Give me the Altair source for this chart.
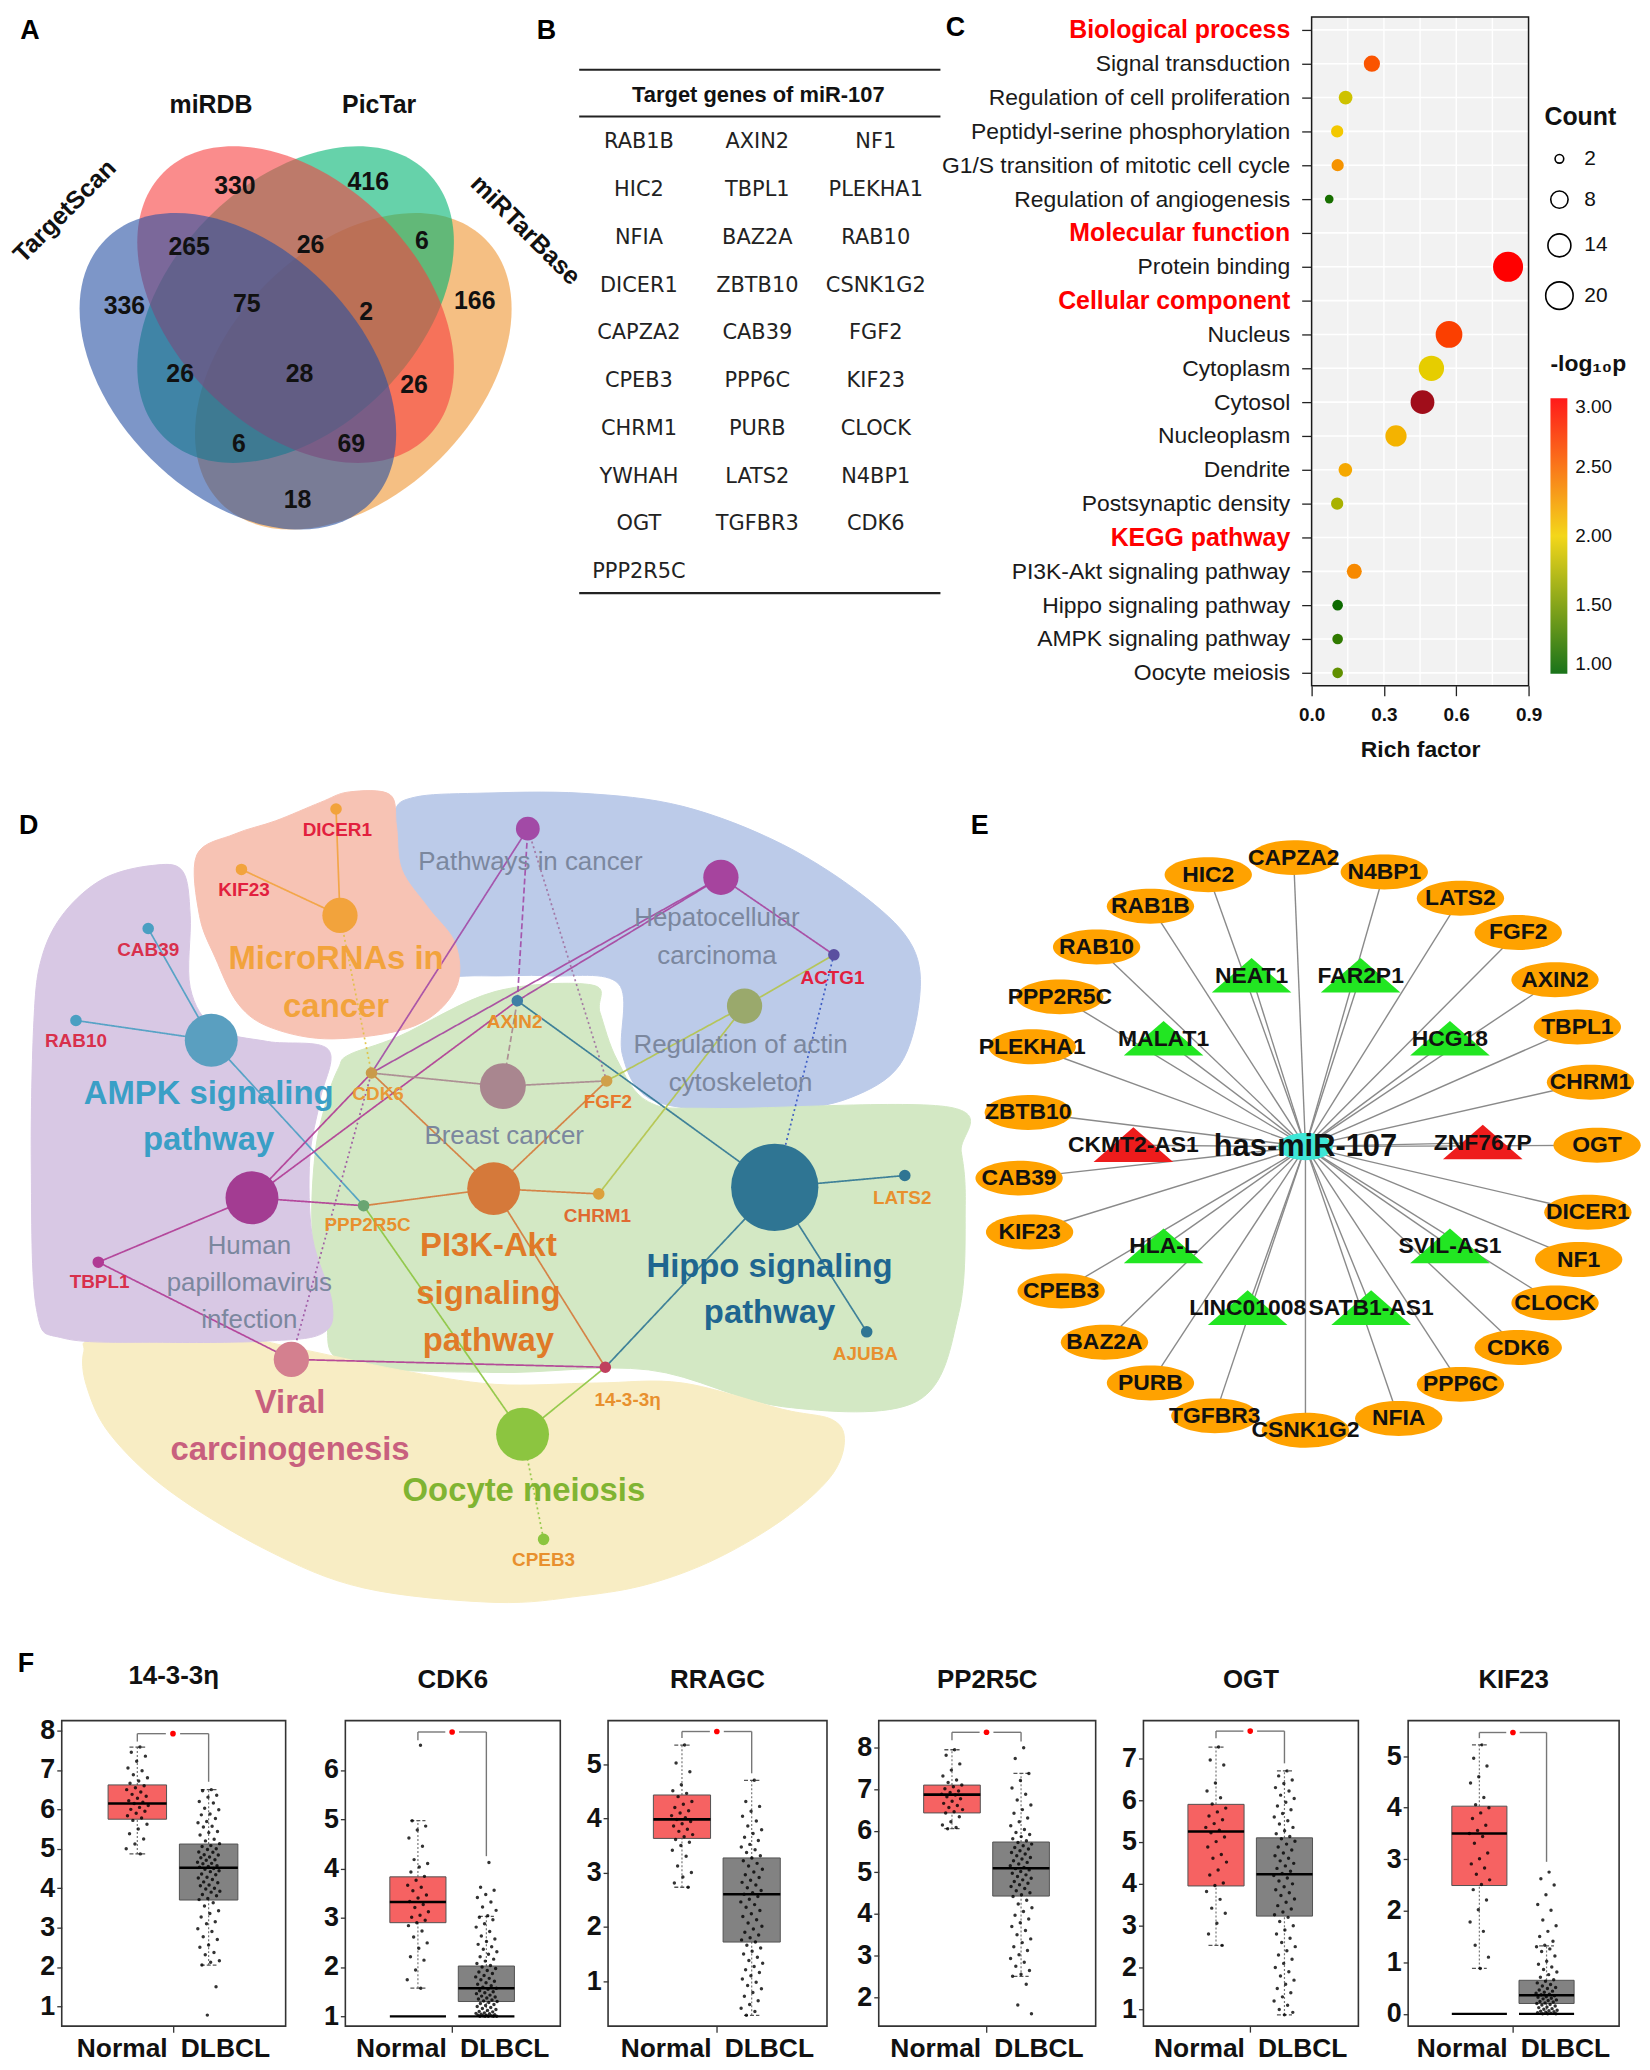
import altair as alt
import pandas as pd

FONT = "Liberation Sans"


def ellipse_path(ry):
    k = 0.5523
    a = round(ry * k, 4)
    return (f"M 1 0 C 1 {a} {k} {ry} 0 {ry} C {-k} {ry} -1 {a} -1 0 "
            f"C -1 {-a} {-k} {-ry} 0 {-ry} C {k} {-ry} 1 {-a} 1 0 Z")


TRIANGLE = "M -1 0.42 L 1 0.42 L 0 -0.45 Z"

# ======================= DATA =======================
# ---- A : Venn (drawing order bottom -> top)
venn_sets = ["miRTarBase", "PicTar", "miRDB", "TargetScan"]
venn_colors = ["#ee9430", "#00b472", "#f73f40", "#2650a3"]
venn_center_x = [350, 292, 292, 234]
venn_center_y = [364, 297, 297, 364]
venn_angle = [135, 135, 45, 45]
venn_counts = [330, 416, 265, 26, 6, 336, 75, 2, 166, 26, 28, 26, 6, 69, 18]
venn_count_x = [231, 365, 185, 307, 419, 120, 243, 363, 472, 176, 296, 411, 235, 348, 294]
venn_count_y = [178, 174, 239, 237, 233, 298, 296, 304, 293, 367, 367, 378, 437, 437, 493]
venn_label_text = ["miRDB", "PicTar", "TargetScan", "miRTarBase"]
venn_label_x = [207, 376, 60, 523]
venn_label_y = [96, 96, 203, 222]
venn_label_angle = [0, 0, 315, 45]

# ---- B : table
target_genes = ["RAB1B", "AXIN2", "NF1", "HIC2", "TBPL1", "PLEKHA1", "NFIA", "BAZ2A", "RAB10",
                "DICER1", "ZBTB10", "CSNK1G2", "CAPZA2", "CAB39", "FGF2", "CPEB3", "PPP6C", "KIF23",
                "CHRM1", "PURB", "CLOCK", "YWHAH", "LATS2", "N4BP1", "OGT", "TGFBR3", "CDK6", "PPP2R5C"]
table_line_y = [61, 108, 587]

# ---- C : enrichment
go_terms = ["Biological process", "Signal transduction", "Regulation of cell proliferation",
            "Peptidyl-serine phosphorylation", "G1/S transition of mitotic cell cycle",
            "Regulation of angiogenesis", "Molecular function", "Protein binding",
            "Cellular component", "Nucleus", "Cytoplasm", "Cytosol", "Nucleoplasm", "Dendrite",
            "Postsynaptic density", "KEGG pathway", "PI3K-Akt signaling pathway",
            "Hippo signaling pathway", "AMPK signaling pathway", "Oocyte meiosis"]
go_headers = ["Biological process", "Molecular function", "Cellular component", "KEGG pathway"]
go_rich = [None, 0.25, 0.141, 0.106, 0.108, 0.073, None, 0.815, None, 0.57, 0.497, 0.46, 0.35,
           0.14, 0.106, None, 0.177, 0.108, 0.108, 0.108]
go_count = [None, 7, 5, 4, 4, 2, None, 24, None, 19, 17, 15, 12, 5, 4, None, 6, 3, 3, 3]
go_neglogp = [None, 2.6, 1.85, 2.05, 2.3, 1.1, None, 3.0, None, 2.7, 1.95, 3.4, 2.15, 2.2, 1.7,
              None, 2.35, 1.05, 1.2, 1.4]
rich_ticks = [0, 0.3, 0.6, 0.9]
inner_grid = [0.15, 0.3, 0.45, 0.6, 0.75]

# ---- D : network (layout coordinates)
d_pathways = ["AMPK signaling pathway", "MicroRNAs in cancer", "Pathways in cancer",
              "Hepatocellular carcinoma", "Regulation of actin cytoskeleton", "Breast cancer",
              "PI3K-Akt signaling pathway", "Hippo signaling pathway",
              "Human papillomavirus infection", "Viral carcinogenesis", "Oocyte meiosis"]
d_path_x = [157, 255, 398, 545, 563, 379, 372, 586, 188, 218, 394]
d_path_y = [785, 690, 624, 661, 759, 820, 898, 897, 905, 1028, 1085]
d_path_diam = [60, 40, 27, 40, 40, 52, 60, 99, 60, 40, 60]
d_path_color = ["#5a9fc0", "#f2a33c", "#a24aa6", "#a6449e", "#9aa96c", "#a9868f", "#d5793a",
                "#2f7593", "#a33c92", "#d4808f", "#8cc540"]
d_genes = ["DICER1", "KIF23", "CAB39", "RAB10", "TBPL1", "CDK6", "AXIN2", "FGF2", "ACTG1",
           "PPP2R5C", "CHRM1", "LATS2", "AJUBA", "14-3-3η", "CPEB3"]
d_gene_x = [252, 180, 109, 54, 71, 279, 390, 458, 631, 273, 452, 685, 656, 457, 410]
d_gene_y = [609, 655, 700, 770, 954, 810, 755, 816, 720, 911, 902, 888, 1007, 1034, 1165]
d_gene_color = ["#f2a33c", "#f2a33c", "#4a9fc2", "#4a9fc2", "#b03a94", "#c99a4a", "#3f7fa5",
                "#d0a04a", "#5a4fa0", "#6aa572", "#dca03c", "#2f7593", "#2f7593", "#c0405e", "#8cc540"]
d_gene_label_x = [253, 182, 109, 54, 72, 284, 388, 459, 630, 276, 451, 683, 655, 474, 410]
d_gene_label_y = [625, 671, 716, 786, 969, 826, 771, 832, 738, 926, 919, 905, 1024, 1059, 1181]
d_gene_label_color = ["#e2203e", "#e2203e", "#d8304c", "#d8304c", "#d8304c", "#e89a38", "#e8902e",
                      "#e8782e", "#e2203e", "#e8902e", "#e06a32", "#e8902e", "#e8902e", "#e8902e",
                      "#e8902e"]
d_edges = [
    ("DICER1", "MicroRNAs in cancer", "#f2a33c", "solid"),
    ("KIF23", "MicroRNAs in cancer", "#f2a33c", "solid"),
    ("MicroRNAs in cancer", "CDK6", "#e0c040", "dot"),
    ("CAB39", "AMPK signaling pathway", "#4a9fc2", "solid"),
    ("RAB10", "AMPK signaling pathway", "#4a9fc2", "solid"),
    ("AMPK signaling pathway", "PPP2R5C", "#4a9fc2", "solid"),
    ("TBPL1", "Human papillomavirus infection", "#b03a94", "solid"),
    ("TBPL1", "Viral carcinogenesis", "#b03a94", "solid"),
    ("Human papillomavirus infection", "CDK6", "#b03a94", "solid"),
    ("Human papillomavirus infection", "AXIN2", "#b03a94", "solid"),
    ("Human papillomavirus infection", "PPP2R5C", "#b03a94", "solid"),
    ("Viral carcinogenesis", "CDK6", "#9a50a0", "dot"),
    ("Viral carcinogenesis", "14-3-3η", "#b03a94", "solid"),
    ("CDK6", "Pathways in cancer", "#a24aa6", "solid"),
    ("CDK6", "Breast cancer", "#a9868f", "solid"),
    ("CDK6", "PI3K-Akt signaling pathway", "#d5793a", "solid"),
    ("CDK6", "Hepatocellular carcinoma", "#a6449e", "solid"),
    ("AXIN2", "Pathways in cancer", "#a24aa6", "dash"),
    ("AXIN2", "Breast cancer", "#a9868f", "dash"),
    ("AXIN2", "Hippo signaling pathway", "#2f7593", "solid"),
    ("AXIN2", "Hepatocellular carcinoma", "#a6449e", "solid"),
    ("FGF2", "Pathways in cancer", "#a070a0", "dot"),
    ("FGF2", "Breast cancer", "#a9868f", "solid"),
    ("FGF2", "PI3K-Akt signaling pathway", "#d5793a", "solid"),
    ("FGF2", "Regulation of actin cytoskeleton", "#b4c44a", "solid"),
    ("ACTG1", "Hepatocellular carcinoma", "#a6449e", "solid"),
    ("ACTG1", "Regulation of actin cytoskeleton", "#b4c44a", "solid"),
    ("ACTG1", "Hippo signaling pathway", "#3050c0", "dot"),
    ("CHRM1", "PI3K-Akt signaling pathway", "#d5793a", "solid"),
    ("CHRM1", "Regulation of actin cytoskeleton", "#b4c44a", "solid"),
    ("PI3K-Akt signaling pathway", "14-3-3η", "#d5793a", "solid"),
    ("PI3K-Akt signaling pathway", "PPP2R5C", "#d5793a", "solid"),
    ("Hippo signaling pathway", "LATS2", "#2f7593", "solid"),
    ("Hippo signaling pathway", "AJUBA", "#2f7593", "solid"),
    ("Hippo signaling pathway", "14-3-3η", "#2f7593", "solid"),
    ("14-3-3η", "Oocyte meiosis", "#8cc540", "solid"),
    ("PPP2R5C", "Oocyte meiosis", "#8cc540", "solid"),
    ("Oocyte meiosis", "CPEB3", "#8cc540", "dot"),
]
d_lab_text = ["AMPK signaling", "pathway", "MicroRNAs in", "cancer", "PI3K-Akt", "signaling",
              "pathway", "Hippo signaling", "pathway", "Viral", "carcinogenesis", "Oocyte meiosis"]
d_lab_x = [155, 155, 252, 252, 368, 368, 368, 582, 582, 217, 217, 395]
d_lab_y = [826, 861, 723, 760, 942, 978, 1014, 958, 993, 1061, 1097, 1128]
d_lab_color = ["#3a9fc6", "#3a9fc6", "#f2a33c", "#f2a33c", "#e07a28", "#e07a28", "#e07a28",
               "#1f6690", "#1f6690", "#c8607e", "#c8607e", "#80b432"]
d_glab_text = ["Pathways in cancer", "Hepatocellular", "carcinoma", "Regulation of actin",
               "cytoskeleton", "Breast cancer", "Human", "papillomavirus", "infection"]
d_glab_x = [400, 542, 542, 560, 560, 380, 186, 186, 186]
d_glab_y = [649, 692, 721, 789, 818, 858, 942, 970, 998]
d_blobs = [
    ("#bccbe9", [(296, 612), (312, 600), (360, 597), (439, 597), (516, 607), (592, 636), (656, 677),
                 (691, 714), (696, 755), (681, 804), (643, 829), (592, 839), (541, 839), (490, 829),
                 (470, 796), (467, 742), (414, 736), (363, 736), (320, 733), (300, 700), (294, 650)]),
    ("#d3e8c4", [(254, 806), (262, 796), (300, 782), (373, 748), (447, 743), (453, 764), (466, 800),
                 (490, 832), (541, 837), (719, 836), (728, 870), (731, 911), (726, 993), (694, 1060),
                 (592, 1064), (490, 1036), (373, 1038), (261, 1031), (244, 996), (234, 934),
                 (236, 872), (245, 830)]),
    ("#f8edc4", [(60, 1022), (72, 1013), (174, 1012), (224, 1020), (300, 1036), (373, 1047),
                 (450, 1046), (516, 1046), (592, 1066), (630, 1074), (639, 1091), (628, 1118),
                 (592, 1150), (541, 1180), (490, 1199), (439, 1208), (373, 1213), (273, 1202),
                 (199, 1173), (125, 1128), (80, 1085), (62, 1048)]),
    ("#f7c3b4", [(146, 644), (175, 628), (206, 618), (240, 604), (262, 596), (293, 598), (298, 622),
                 (302, 655), (322, 684), (343, 712), (343, 746), (312, 774), (250, 784), (204, 776),
                 (178, 758), (160, 722), (148, 690)]),
    ("#d8c8e4", [(22, 770), (28, 722), (45, 688), (75, 662), (112, 652), (135, 656), (141, 690),
                 (141, 745), (160, 776), (200, 786), (246, 792), (240, 830), (232, 875), (234, 935),
                 (249, 985), (242, 1008), (200, 1014), (120, 1015), (45, 1012), (24, 990), (20, 880)]),
]

# ---- E : miRNA network (layout coordinates)
e_center = (990, 866)
e_genes = ["HIC2", "CAPZA2", "N4BP1", "LATS2", "FGF2", "AXIN2", "TBPL1", "CHRM1", "OGT", "DICER1",
           "NF1", "CLOCK", "CDK6", "PPP6C", "NFIA", "CSNK1G2", "TGFBR3", "PURB", "BAZ2A", "CPEB3",
           "KIF23", "CAB39", "ZBTB10", "PLEKHA1", "PPP2R5C", "RAB10", "RAB1B"]
e_gene_x = [916, 981, 1050, 1108, 1152, 1180, 1197, 1207, 1212, 1205, 1198, 1180, 1152, 1108, 1061,
            990, 921, 872, 837, 804, 780, 772, 779, 782, 803, 831, 872]
e_gene_y = [659, 646, 657, 677, 703, 739, 775, 817, 865, 916, 952, 985, 1019, 1047, 1073, 1082, 1071,
            1046, 1015, 976, 931, 890, 840, 790, 752, 714, 683]
e_lnc = ["NEAT1", "FAR2P1", "MALAT1", "HCG18", "CKMT2-AS1", "ZNF767P", "HLA-L", "SVIL-AS1",
         "LINC01008", "SATB1-AS1"]
e_lnc_x = [949, 1032, 882, 1100, 859, 1125, 882, 1100, 946, 1040]
e_lnc_y = [736, 736, 784, 784, 865, 863, 942, 942, 989, 989]
e_lnc_color = ["#22e622", "#22e622", "#22e622", "#22e622", "#ee1c1c", "#ee1c1c", "#22e622",
               "#22e622", "#22e622", "#22e622"]

# ---- F : box plots
box_genes = ["14-3-3η", "CDK6", "RRAGC", "PP2R5C", "OGT", "KIF23"]
normal_stats = [[4.87, 5.75, 6.15, 6.62, 7.58], [1.57, 2.9, 3.32, 3.83, 4.97],
                [2.73, 3.63, 3.98, 4.43, 5.35], [6.05, 6.43, 6.87, 7.1, 7.95],
                [2.53, 3.95, 5.25, 5.9, 7.27], [0.88, 2.49, 3.5, 4.03, 5.22]]
dlbcl_stats = [[2.05, 3.7, 4.52, 5.12, 6.5], [1.0, 1.3, 1.57, 2.02, 3.03],
               [0.37, 1.72, 2.6, 3.27, 4.7], [2.5, 4.43, 5.1, 5.73, 7.38],
               [0.87, 3.23, 4.23, 5.1, 6.7], [0.0, 0.2, 0.36, 0.65, 1.32]]
y_domains = [[0.5, 8.25], [0.8, 7.0], [0.17, 5.8], [1.3, 8.65], [0.6, 7.9], [-0.24, 5.69]]
y_ticks = [[1, 2, 3, 4, 5, 6, 7, 8], [1, 2, 3, 4, 5, 6], [1, 2, 3, 4, 5], [2, 3, 4, 5, 6, 7, 8],
           [1, 2, 3, 4, 5, 6, 7], [0, 1, 2, 3, 4, 5]]
bracket_y = [[7.92, 7.72, 6.7], [6.77, 6.6, 4.25], [5.6, 5.48, 4.83], [8.37, 8.18, 8.15],
             [7.65, 7.48, 6.88], [5.46, 5.35, 2.95]]
floor_line = [None, 1.0, None, None, None, 0.0]
normal_vals = [
    [7.58, 7.45, 7.35, 7.22, 7.05, 6.98, 6.88, 6.8, 6.72, 6.66, 6.6, 6.55, 6.5, 6.44, 6.38, 6.33,
     6.28, 6.22, 6.18, 6.15, 6.1, 6.05, 6.0, 5.95, 5.9, 5.84, 5.78, 5.72, 5.62, 5.5, 5.38, 5.25,
     5.12, 5.0, 4.87],
    [6.5, 4.97, 4.86, 4.78, 4.62, 4.45, 4.18, 4.1, 4.03, 3.93, 3.84, 3.76, 3.66, 3.62, 3.55, 3.46,
     3.4, 3.33, 3.27, 3.21, 3.12, 3.05, 3.01, 2.95, 2.9, 2.84, 2.73, 2.61, 2.49, 2.38, 2.21, 2.14,
     1.94, 1.74, 1.57],
    [5.35, 5.02, 4.86, 4.62, 4.51, 4.46, 4.4, 4.31, 4.26, 4.2, 4.14, 4.1, 4.05, 4.01, 3.98, 3.94,
     3.9, 3.86, 3.8, 3.76, 3.7, 3.66, 3.61, 3.56, 3.5, 3.41, 3.3, 3.12, 3.0, 2.92, 2.81, 2.73],
    [7.95, 7.82, 7.61, 7.46, 7.32, 7.22, 7.16, 7.1, 7.06, 7.01, 6.96, 6.92, 6.88, 6.86, 6.82, 6.77,
     6.71, 6.66, 6.61, 6.56, 6.51, 6.46, 6.43, 6.34, 6.22, 6.14, 6.08, 6.05],
    [7.27, 6.96, 6.84, 6.41, 6.22, 6.06, 5.91, 5.81, 5.72, 5.62, 5.53, 5.44, 5.35, 5.28, 5.22, 5.12,
     5.01, 4.88, 4.7, 4.61, 4.52, 4.33, 4.21, 4.02, 3.96, 3.82, 3.63, 3.42, 3.3, 3.06, 2.8, 2.53],
    [5.22, 4.96, 4.81, 4.6, 4.48, 4.2, 4.06, 4.0, 3.9, 3.79, 3.66, 3.56, 3.5, 3.44, 3.31, 3.12,
     3.01, 2.91, 2.83, 2.71, 2.6, 2.51, 2.41, 2.21, 2.02, 1.78, 1.6, 1.33, 1.1, 0.88],
]
dlbcl_vals = [
    [6.5, 6.47, 6.36, 6.31, 6.2, 6.16, 6.03, 5.99, 5.88, 5.86, 5.77, 5.69, 5.66, 5.57, 5.55, 5.44,
     5.41, 5.35, 5.24, 5.2, 5.13, 5.08, 5.06, 5.0, 4.98, 4.92, 4.91, 4.85, 4.84, 4.79, 4.77, 4.72,
     4.71, 4.66, 4.63, 4.62, 4.57, 4.55, 4.53, 4.5, 4.48, 4.44, 4.42, 4.36, 4.34, 4.28, 4.26, 4.22,
     4.16, 4.14, 4.08, 4.06, 4.0, 3.98, 3.92, 3.9, 3.84, 3.81, 3.74, 3.71, 3.63, 3.55, 3.43, 3.36,
     3.27, 3.15, 3.1, 2.97, 2.9, 2.77, 2.7, 2.56, 2.5, 2.37, 2.31, 2.16, 2.12, 2.05, 1.5, 0.78],
    [4.12, 3.62, 3.56, 3.47, 3.41, 3.32, 3.22, 3.15, 3.04, 3.01, 2.96, 2.88, 2.81, 2.72, 2.63, 2.57,
     2.52, 2.46, 2.41, 2.36, 2.31, 2.26, 2.21, 2.16, 2.12, 2.07, 2.03, 2.0, 1.97, 1.93, 1.9, 1.87,
     1.83, 1.8, 1.77, 1.74, 1.71, 1.68, 1.65, 1.62, 1.59, 1.57, 1.55, 1.52, 1.5, 1.48, 1.46, 1.43,
     1.41, 1.39, 1.37, 1.35, 1.33, 1.31, 1.3, 1.28, 1.26, 1.24, 1.22, 1.2, 1.18, 1.16, 1.14, 1.12,
     1.1, 1.09, 1.07, 1.06, 1.05, 1.04, 1.03, 1.02, 1.02, 1.01, 1.01, 1.0, 1.0, 1.0, 1.0, 1.0],
    [4.7, 4.31, 4.22, 4.13, 4.04, 3.95, 3.86, 3.79, 3.72, 3.65, 3.59, 3.52, 3.47, 3.42, 3.37, 3.31,
     3.27, 3.22, 3.17, 3.12, 3.06, 3.01, 2.96, 2.91, 2.86, 2.82, 2.77, 2.72, 2.67, 2.63, 2.6, 2.56,
     2.51, 2.46, 2.41, 2.36, 2.3, 2.24, 2.19, 2.13, 2.07, 2.01, 1.96, 1.9, 1.85, 1.8, 1.76, 1.72,
     1.66, 1.61, 1.55, 1.5, 1.44, 1.38, 1.33, 1.27, 1.21, 1.16, 1.1, 1.04, 0.98, 0.92, 0.86, 0.79,
     0.72, 0.64, 0.57, 0.5, 0.44, 0.37],
    [8.0, 7.74, 7.38, 7.21, 7.03, 6.88, 6.74, 6.62, 6.51, 6.42, 6.31, 6.22, 6.12, 6.03, 5.96, 5.91,
     5.86, 5.81, 5.76, 5.72, 5.68, 5.64, 5.6, 5.56, 5.52, 5.48, 5.44, 5.4, 5.36, 5.32, 5.28, 5.24,
     5.2, 5.16, 5.12, 5.09, 5.06, 5.02, 4.98, 4.94, 4.9, 4.86, 4.82, 4.78, 4.74, 4.7, 4.66, 4.61,
     4.56, 4.51, 4.46, 4.42, 4.33, 4.24, 4.15, 4.06, 3.97, 3.88, 3.79, 3.7, 3.6, 3.5, 3.4, 3.31,
     3.21, 3.12, 3.02, 2.93, 2.84, 2.74, 2.64, 2.55, 2.5, 2.31, 1.81, 1.6],
    [6.7, 6.58, 6.48, 6.4, 6.3, 6.22, 6.12, 6.04, 5.95, 5.86, 5.77, 5.68, 5.6, 5.51, 5.43, 5.35,
     5.27, 5.2, 5.13, 5.08, 5.02, 4.95, 4.88, 4.81, 4.74, 4.67, 4.61, 4.55, 4.49, 4.43, 4.37, 4.3,
     4.25, 4.2, 4.14, 4.07, 4.0, 3.93, 3.86, 3.79, 3.72, 3.64, 3.56, 3.48, 3.4, 3.33, 3.26, 3.2,
     3.1, 3.0, 2.9, 2.8, 2.7, 2.6, 2.5, 2.4, 2.3, 2.2, 2.1, 2.0, 1.9, 1.8, 1.7, 1.6, 1.5, 1.4, 1.3,
     1.2, 1.1, 1.0, 0.93, 0.87],
    [2.75, 2.62, 2.5, 2.31, 2.12, 2.01, 1.82, 1.71, 1.6, 1.5, 1.41, 1.33, 1.3, 1.26, 1.21, 1.12,
     1.02, 0.96, 0.91, 0.86, 0.81, 0.76, 0.71, 0.66, 0.63, 0.6, 0.57, 0.54, 0.51, 0.49, 0.46, 0.44,
     0.42, 0.4, 0.38, 0.37, 0.35, 0.33, 0.32, 0.3, 0.29, 0.27, 0.26, 0.24, 0.23, 0.21, 0.2, 0.18,
     0.17, 0.15, 0.13, 0.12, 0.1, 0.09, 0.07, 0.06, 0.05, 0.04, 0.03, 0.02, 0.01, 0.0, 0.0, 0.0],
]
panel_gap = [49, 60, 48, 52, 48, 50]
panel_width = [225, 216, 220, 218, 216, 212]
PANEL_H = 307

# ---- layout constants (pixels inside the first row)
ROW1_W, ROW1_H = 1634, 767
C_LEFT, C_W, C_H = 1305, 218, 672

# ======================= ROW 1 : A + B canvas =======================
AXS = alt.Scale(domain=[8, 8 + ROW1_W], nice=False, zero=False)
AYS = alt.Scale(domain=[8, 8 + ROW1_H], nice=False, zero=False, reverse=True)


def ax(f):
    return alt.X(f, type="quantitative", scale=AXS, axis=None)


def ay(f):
    return alt.Y(f, type="quantitative", scale=AYS, axis=None)


venn_df = pd.DataFrame({"set": venn_sets, "x": venn_center_x, "y": venn_center_y,
                        "angle": venn_angle, "color": venn_colors})
venn = alt.Chart(venn_df).mark_point(shape=ellipse_path(0.66), filled=True, size=141000,
                                     fillOpacity=0.6, strokeWidth=0).encode(
    x=ax("x"), y=ay("y"), angle=alt.Angle("angle:Q", scale=None),
    color=alt.Color("color:N", scale=None))

counts = alt.Chart(pd.DataFrame({"n": venn_counts, "x": venn_count_x, "y": venn_count_y})).mark_text(
    font=FONT, fontSize=25, fontWeight="bold", color="#111").encode(x=ax("x"), y=ay("y"), text="n:N")

set_labels = alt.Chart(pd.DataFrame({"t": venn_label_text, "x": venn_label_x, "y": venn_label_y,
                                     "a": venn_label_angle})).mark_text(
    font=FONT, fontSize=25, fontWeight="bold", color="#111").encode(
    x=ax("x"), y=ay("y"), text="t:N", angle=alt.Angle("a:Q", scale=None))

tbl_lines = alt.Chart(pd.DataFrame({"y": table_line_y, "x0": [577] * 3, "x1": [940] * 3})).mark_rule(
    color="#222", strokeWidth=2.2).encode(x=ax("x0"), x2="x1", y=ay("y"))

tbl_head = alt.Chart(pd.DataFrame({"t": ["Target genes of miR-107"], "x": [757], "y": [86]})).mark_text(
    font=FONT, fontSize=22, fontWeight="bold", color="#111").encode(x=ax("x"), y=ay("y"), text="t:N")

tbl_text = alt.Chart(pd.DataFrame({"gene": target_genes})).transform_window(
    idx="row_number()").transform_calculate(
    px="637 + 119 * ((datum.idx - 1) % 3)", py="134 + 48 * floor((datum.idx - 1) / 3)").mark_text(
    font="DejaVu Sans", fontSize=21, color="#222").encode(x=ax("px"), y=ay("py"), text="gene:N")

letters_ab = alt.Chart(pd.DataFrame({"t": ["A", "B", "C"], "x": [25, 544, 955], "y": [22, 22, 19]})).mark_text(
    font=FONT, fontSize=27, fontWeight="bold", color="#000").encode(x=ax("x"), y=ay("y"), text="t:N")

canvas_ab = alt.layer(venn, counts, set_labels, tbl_lines, tbl_head, tbl_text, letters_ab)

# ======================= ROW 1 : panel C =======================
c_df = pd.DataFrame({"term": go_terms, "rich": go_rich, "count": go_count, "lp": go_neglogp})
htest = "indexof(['Biological process','Molecular function','Cellular component','KEGG pathway'], datum.value) >= 0"
c_xscale = alt.Scale(domain=[0, 0.9], range=[C_LEFT, C_LEFT + C_W], nice=False, zero=False)
c_yscale = alt.Scale(type="point", domain=go_terms, range=[0, C_H], padding=0.38)
c_xaxis = alt.Axis(orient="bottom", offset=C_H - ROW1_H, values=rich_ticks, format=".1f",
                   title="Rich factor", titleFont=FONT, titleFontSize=23, titleFontWeight="bold",
                   titleColor="#111", titlePadding=14, labelFont=FONT, labelFontSize=19,
                   labelFontWeight="bold", labelColor="#111", labelFlush=False, tickSize=10,
                   tickColor="#222", tickWidth=1.3, labelPadding=10, grid=False, domain=False)
c_yaxis = alt.Axis(orient="left", offset=-C_LEFT, title=None, labelFont=FONT,
                   labelFontSize={"condition": {"test": htest, "value": 25}, "value": 23},
                   labelFontWeight={"condition": {"test": htest, "value": "bold"}, "value": "normal"},
                   labelColor={"condition": {"test": htest, "value": "#ff0000"}, "value": "#1a1a1a"},
                   tickSize=10, tickColor="#222", tickWidth=1.3, labelPadding=12, grid=False,
                   domain=False, labelLimit=600)
c_size_scale = alt.Scale(domain=[0, 20], range=[0, 760])
size_legend = alt.Legend(title="Count", values=[2, 8, 14, 20], orient="none",
                         legendX=C_LEFT + 234, legendY=89, symbolType="circle",
                         symbolStrokeColor="black", symbolStrokeWidth=1.6, symbolOpacity=1,
                         titleFont=FONT, titleFontSize=25, titleFontWeight="bold",
                         titleColor="#111", titlePadding=18, labelFont=FONT, labelFontSize=21,
                         labelColor="#111", rowPadding=18, labelOffset=10)
color_enc = alt.Color("lp:Q", scale=alt.Scale(domain=[1, 2, 3], range=["#006400", "#f2d200", "#ff0000"],
                                              interpolate="rgb"),
                      legend=alt.Legend(title="-log₁₀p", orient="none", legendX=C_LEFT + 240,
                                        legendY=338, direction="vertical", gradientLength=277,
                                        gradientThickness=17, values=[1, 1.5, 2, 2.5, 3],
                                        format=".2f", titleFont=FONT, titleFontSize=23,
                                        titleFontWeight="bold", titleColor="#111", titlePadding=22,
                                        labelFont=FONT, labelFontSize=19, labelColor="#111",
                                        labelOffset=8, gradientStrokeWidth=0, gradientOpacity=1))
one = pd.DataFrame({"k": [0]})
c_bg = alt.Chart(one).mark_rect(fill="#f2f2f2").encode(
    x=alt.value(C_LEFT), x2=alt.value(C_LEFT + C_W), y=alt.value(0), y2=alt.value(C_H))
c_hgrid = alt.Chart(pd.DataFrame({"term": go_terms})).mark_rule(color="white", strokeWidth=1.6).encode(
    y=alt.Y("term:N", scale=c_yscale, axis=c_yaxis, sort=go_terms),
    x=alt.value(C_LEFT), x2=alt.value(C_LEFT + C_W))
c_vgrid = alt.Chart(pd.DataFrame({"v": inner_grid})).mark_rule(color="white", strokeWidth=1.4).encode(
    x=alt.X("v:Q", scale=c_xscale, axis=c_xaxis), y=alt.value(0), y2=alt.value(C_H))
c_points = alt.Chart(c_df).transform_filter("datum.lp <= 3").mark_circle(opacity=1).encode(
    x=alt.X("rich:Q", scale=c_xscale, axis=c_xaxis),
    y=alt.Y("term:N", scale=c_yscale, axis=c_yaxis, sort=go_terms),
    size=alt.Size("count:Q", scale=c_size_scale, legend=None), color=color_enc)
c_dark = alt.Chart(c_df).transform_filter("datum.lp > 3").mark_circle(opacity=1, color="#a00d1a").encode(
    x=alt.X("rich:Q", scale=c_xscale, axis=c_xaxis),
    y=alt.Y("term:N", scale=c_yscale, axis=c_yaxis, sort=go_terms),
    size=alt.Size("count:Q", scale=c_size_scale, legend=None))
# hollow-point layer with no visible marks: it only carries the "Count" legend
c_sizeleg = alt.Chart(c_df).transform_filter("datum.count > 1000").mark_point(
    filled=False, color="black", strokeWidth=1.6, opacity=1).encode(
    x=alt.X("rich:Q", scale=c_xscale, axis=c_xaxis),
    y=alt.Y("term:N", scale=c_yscale, axis=c_yaxis, sort=go_terms),
    size=alt.Size("count:Q", scale=c_size_scale, legend=size_legend))
c_frame = alt.Chart(one).mark_rect(fill="transparent", stroke="#1a1a1a", strokeWidth=1.5).encode(
    x=alt.value(C_LEFT), x2=alt.value(C_LEFT + C_W), y=alt.value(0), y2=alt.value(C_H))
chart_c = alt.layer(c_bg, c_hgrid, c_vgrid, c_points, c_dark, c_sizeleg, c_frame).resolve_scale(
    size="independent")

row1 = alt.layer(canvas_ab, chart_c).resolve_scale(x="independent", y="independent").properties(
    width=ROW1_W, height=ROW1_H)

# ======================= ROW 2 : D + E canvas =======================
DXS = alt.Scale(domain=[8 / 1.32, 1642 / 1.32], nice=False, zero=False)
DYS = alt.Scale(domain=[775 / 1.32, 1720 / 1.32], nice=False, zero=False, reverse=True)


def dx(f):
    return alt.X(f, type="quantitative", scale=DXS, axis=None)


def dy(f):
    return alt.Y(f, type="quantitative", scale=DYS, axis=None)


de_layers = []
for col, pts in d_blobs:
    bdf = pd.DataFrame({"x": [p[0] for p in pts], "y": [p[1] for p in pts], "i": list(range(len(pts)))})
    de_layers.append(alt.Chart(bdf).mark_line(interpolate="cardinal-closed", fill=col, stroke=col,
                                              strokeWidth=1).encode(x=dx("x"), y=dy("y"), order="i:Q"))

node_pos = {n: (x, y) for n, x, y in zip(d_pathways, d_path_x, d_path_y)}
node_pos.update({n: (x, y) for n, x, y in zip(d_genes, d_gene_x, d_gene_y)})
edge_df = pd.DataFrame({
    "x": [node_pos[a][0] for a, b, c, s in d_edges], "y": [node_pos[a][1] for a, b, c, s in d_edges],
    "x2": [node_pos[b][0] for a, b, c, s in d_edges], "y2": [node_pos[b][1] for a, b, c, s in d_edges],
    "c": [c for a, b, c, s in d_edges], "dash": [s for a, b, c, s in d_edges]})
de_layers.append(alt.Chart(edge_df).mark_rule(strokeWidth=1.7, opacity=0.9).encode(
    x=dx("x"), y=dy("y"), x2="x2", y2="y2", color=alt.Color("c:N", scale=None),
    strokeDash=alt.StrokeDash("dash:N", scale=alt.Scale(domain=["solid", "dot", "dash"],
                                                        range=[[1, 0], [2, 3], [6, 3]]), legend=None)))

path_df = pd.DataFrame({"n": d_pathways, "x": d_path_x, "y": d_path_y, "d": d_path_diam, "c": d_path_color})
de_layers.append(alt.Chart(path_df).transform_calculate(s="PI * datum.d * datum.d / 4").mark_point(
    shape="circle", filled=True, opacity=1, strokeWidth=0).encode(
    x=dx("x"), y=dy("y"), size=alt.Size("s:Q", scale=None), color=alt.Color("c:N", scale=None)))
gene_df = pd.DataFrame({"n": d_genes, "x": d_gene_x, "y": d_gene_y, "c": d_gene_color})
de_layers.append(alt.Chart(gene_df).mark_point(shape="circle", filled=True, opacity=1, size=135,
                                               strokeWidth=0).encode(
    x=dx("x"), y=dy("y"), color=alt.Color("c:N", scale=None)))
de_layers.append(alt.Chart(pd.DataFrame({"t": d_glab_text, "x": d_glab_x, "y": d_glab_y})).mark_text(
    font=FONT, fontSize=26, color="#7b879e").encode(x=dx("x"), y=dy("y"), text="t:N"))
de_layers.append(alt.Chart(pd.DataFrame({"t": d_lab_text, "x": d_lab_x, "y": d_lab_y, "c": d_lab_color})).mark_text(
    font=FONT, fontSize=33, fontWeight="bold").encode(
    x=dx("x"), y=dy("y"), text="t:N", color=alt.Color("c:N", scale=None)))
de_layers.append(alt.Chart(pd.DataFrame({"t": d_genes, "x": d_gene_label_x, "y": d_gene_label_y,
                                         "c": d_gene_label_color})).mark_text(
    font=FONT, fontSize=19, fontWeight="bold").encode(
    x=dx("x"), y=dy("y"), text="t:N", color=alt.Color("c:N", scale=None)))

# E
e_edge_df = pd.DataFrame({"x": [e_center[0]] * (len(e_genes) + len(e_lnc)),
                          "y": [e_center[1]] * (len(e_genes) + len(e_lnc)),
                          "x2": e_gene_x + e_lnc_x, "y2": e_gene_y + e_lnc_y})
de_layers.append(alt.Chart(e_edge_df).mark_rule(color="#8a8a8a", strokeWidth=1.4).encode(
    x=dx("x"), y=dy("y"), x2="x2", y2="y2"))
e_gene_df = pd.DataFrame({"t": e_genes, "x": e_gene_x, "y": e_gene_y})
de_layers.append(alt.Chart(e_gene_df).mark_point(shape=ellipse_path(0.4), filled=True, size=7700,
                                                 opacity=1, color="#ffa200", strokeWidth=0).encode(
    x=dx("x"), y=dy("y")))
e_lnc_df = pd.DataFrame({"t": e_lnc, "x": e_lnc_x, "y": e_lnc_y, "c": e_lnc_color})
de_layers.append(alt.Chart(e_lnc_df).mark_point(shape=TRIANGLE, filled=True, size=6400, opacity=1,
                                                strokeWidth=0).encode(
    x=dx("x"), y=dy("y"), color=alt.Color("c:N", scale=None)))
de_layers.append(alt.Chart(pd.DataFrame({"x": [e_center[0]], "y": [e_center[1]]})).mark_point(
    shape=ellipse_path(0.5), filled=True, size=3000, opacity=1, color="#3ee6d6", strokeWidth=0).encode(
    x=dx("x"), y=dy("y")))
de_layers.append(alt.Chart(e_gene_df).mark_text(font=FONT, fontSize=23, fontWeight="bold",
                                                color="#111").encode(x=dx("x"), y=dy("y"), text="t:N"))
de_layers.append(alt.Chart(e_lnc_df).mark_text(font=FONT, fontSize=23, fontWeight="bold",
                                               color="#111").encode(x=dx("x"), y=dy("y"), text="t:N"))
de_layers.append(alt.Chart(pd.DataFrame({"t": ["has-miR-107"], "x": [e_center[0]], "y": [e_center[1]]})).mark_text(
    font=FONT, fontSize=31, fontWeight="bold", color="#111").encode(x=dx("x"), y=dy("y"), text="t:N"))
de_layers.append(alt.Chart(pd.DataFrame({"t": ["D", "E", "F"], "x": [18, 742, 16], "y": [622, 622, 1260]})).mark_text(
    font=FONT, fontSize=27, fontWeight="bold", color="#000").encode(x=dx("x"), y=dy("y"), text="t:N"))

canvas_de = alt.layer(*de_layers).properties(width=1634, height=945)


# ======================= ROW 3 : panel F =======================
def box_panel(k):
    xs = alt.Scale(domain=[-0.06, 3.08], nice=False, zero=False)
    ys = alt.Scale(domain=y_domains[k], nice=False, zero=False)
    xax = alt.Axis(values=[1.5], labelExpr="'Normal\u2002DLBCL'", title=None, labelFont=FONT,
                   labelFontSize=26.5, labelFontWeight="bold", labelColor="#111", labelFlush=False,
                   labelLimit=400, tickSize=6, tickColor="#333", tickWidth=1.3, domain=False,
                   grid=False, labelPadding=3)
    yax = alt.Axis(values=y_ticks[k], title=None, labelFont=FONT, labelFontSize=27,
                   labelFontWeight="bold", labelColor="#111", tickSize=5, tickColor="#333",
                   tickWidth=1.3, domain=False, grid=False, labelPadding=2, format="d")

    def X(f):
        return alt.X(f, type="quantitative", scale=xs, axis=xax)

    def Y(f):
        return alt.Y(f, type="quantitative", scale=ys, axis=yax)

    st = [normal_stats[k], dlbcl_stats[k]]
    bdf = pd.DataFrame({"g": [1, 2], "lo": [s[0] for s in st], "q1": [s[1] for s in st],
                        "med": [s[2] for s in st], "q3": [s[3] for s in st], "hi": [s[4] for s in st],
                        "fill": ["#f65a5a", "#7c7c7c"]})
    base = alt.Chart(bdf).transform_calculate(xa="datum.g - 0.41", xb="datum.g + 0.41",
                                              ca="datum.g - 0.11", cb="datum.g + 0.11")
    layers = [
        base.mark_rule(color="#777", strokeWidth=1.2, strokeDash=[2, 2]).encode(x=X("g"), y=Y("lo"), y2="q1"),
        base.mark_rule(color="#777", strokeWidth=1.2, strokeDash=[2, 2]).encode(x=X("g"), y=Y("q3"), y2="hi"),
        base.mark_rule(color="#555", strokeWidth=1.3, strokeDash=[4, 2]).encode(x=X("ca"), x2="cb", y=Y("lo")),
        base.mark_rule(color="#555", strokeWidth=1.3, strokeDash=[4, 2]).encode(x=X("ca"), x2="cb", y=Y("hi")),
        base.mark_rect(stroke="#4a4a4a", strokeWidth=1, opacity=0.95).encode(
            x=X("xa"), x2="xb", y=Y("q1"), y2="q3", color=alt.Color("fill:N", scale=None)),
    ]
    nv, dv = normal_vals[k], dlbcl_vals[k]
    ddf = pd.DataFrame({"g": [1] * len(nv) + [2] * len(dv), "v": nv + dv})
    layers.append(alt.Chart(ddf).transform_window(rn="row_number()", groupby=["g"]).transform_calculate(
        xj="datum.g + ((datum.rn * 0.618034) % 1 - 0.5) * 0.32").mark_circle(
        color="black", size=12, opacity=0.8).encode(x=X("xj"), y=Y("v")))
    layers.append(base.mark_rule(color="black", strokeWidth=2.6).encode(x=X("xa"), x2="xb", y=Y("med")))
    if floor_line[k] is not None:
        fdf = pd.DataFrame({"g": [1, 2], "f": [floor_line[k]] * 2})
        layers.append(alt.Chart(fdf).transform_calculate(xa="datum.g - 0.41", xb="datum.g + 0.41").mark_rule(
            color="black", strokeWidth=2.2).encode(x=X("xa"), x2="xb", y=Y("f")))
    top, lend, rend = bracket_y[k]
    brdf = pd.DataFrame({"x": [1, 2, 1, 1.6], "x2": [1, 2, 1.4, 2], "y": [top] * 4,
                         "y2": [lend, rend, top, top]})
    layers.append(alt.Chart(brdf).mark_rule(color="#777", strokeWidth=1.4).encode(
        x=X("x"), x2="x2", y=Y("y"), y2="y2"))
    layers.append(alt.Chart(pd.DataFrame({"x": [1.5], "y": [top]})).mark_point(
        shape="circle", filled=True, color="#ff0000", size=32, opacity=1).encode(x=X("x"), y=Y("y")))
    return alt.layer(*layers).properties(
        width=panel_width[k], height=PANEL_H,
        title=alt.TitleParams(text=box_genes[k], font=FONT, fontSize=26, fontWeight="bold",
                              color="#111", offset=28, anchor="middle"),
        view=alt.ViewBackground(stroke="#333", strokeWidth=1.6, fill="white"))


def spacer(w):
    return alt.Chart(pd.DataFrame({"z": [0]})).mark_point(opacity=0).encode(
        x=alt.value(0), y=alt.value(0)).properties(width=w, height=2)


row3_items = []
for k in range(6):
    row3_items.append(spacer(panel_gap[k]))
    row3_items.append(box_panel(k))
row3 = alt.hconcat(*row3_items, spacing=0, bounds="flush")

chart = alt.vconcat(row1, canvas_de, row3, spacing=0, bounds="flush").properties(padding=0)
chart = chart.configure(font=FONT).configure_view(stroke="transparent")
chart.save("out.html", embed_options={"renderer": "svg", "actions": False})
